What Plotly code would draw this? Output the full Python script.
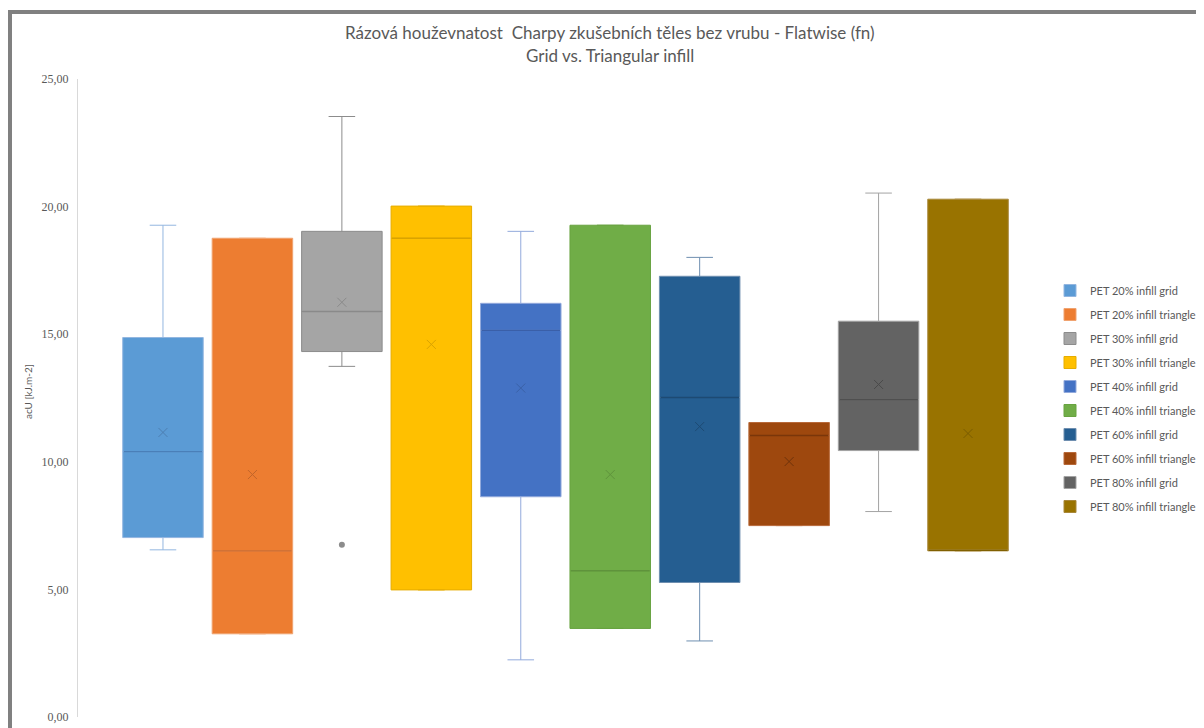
import plotly.graph_objects as go

categories = ["PET 20% infill grid", "PET 20% infill triangle", "PET 30% infill grid",
              "PET 30% infill triangle", "PET 40% infill grid", "PET 40% infill triangle",
              "PET 60% infill grid", "PET 60% infill triangle", "PET 80% infill grid",
              "PET 80% infill triangle"]
minimum = [6.55, 3.26, 13.74, 4.98, 2.24, 3.47, 2.98, 7.50, 8.05, 6.51]
q1 = [7.03, 3.26, 14.32, 4.98, 8.63, 3.47, 5.27, 7.50, 10.44, 6.51]
median = [10.40, 6.51, 15.89, 18.76, 15.15, 5.73, 12.52, 11.03, 12.44, 6.53]
q3 = [14.87, 18.76, 19.03, 20.02, 16.21, 19.27, 17.27, 11.54, 15.51, 20.29]
maximum = [19.27, 18.76, 23.53, 20.02, 19.03, 19.27, 18.01, 11.54, 20.53, 20.29]
mean = [11.15, 9.50, 16.25, 14.60, 12.89, 9.50, 11.38, 10.01, 13.03, 11.11]
outlier_cat = [2]
outlier_val = [6.75]

fills = ["#5B9BD5", "#ED7D31", "#A5A5A5", "#FFC000", "#4472C4",
         "#70AD47", "#255E91", "#9E480E", "#636363", "#997300"]
lines = ["#93b6e0", "#f0a370", "#8c8c8c", "#e6ad00", "#93aadc",
         "#68a341", "#6f8fb0", "#b8693a", "#a3a3a3", "#a8883a"]
medcol = ["#4a7fb8", "#c9672a", "#8a8a8a", "#d9a300", "#3a5fa8",
          "#5f933c", "#1d4a73", "#7a360a", "#4f4f4f", "#806000"]
markcol = ["#4d7fb2", "#c0652a", "#8a8a8a", "#d9a300", "#3a61a7",
           "#5f933c", "#1d4a73", "#6e320a", "#4a4a4a", "#7a5c00"]
BOXW = 0.9

fig = go.Figure()
for i, name in enumerate(categories):
    fig.add_trace(go.Box(
        x=[i], q1=[q1[i]], median=[median[i]], q3=[q3[i]],
        lowerfence=[minimum[i]], upperfence=[maximum[i]],
        name=name, fillcolor=fills[i], line=dict(color=lines[i], width=1),
        width=BOXW, whiskerwidth=0.33, boxpoints=False, legendgroup=name,
        hoverinfo="skip"))
for i in range(len(categories)):
    fig.add_trace(go.Scatter(
        x=[i - BOXW / 2 + 0.01, i + BOXW / 2 - 0.01], y=[median[i], median[i]],
        mode="lines", showlegend=False, line=dict(color=medcol[i], width=1.3),
        hoverinfo="skip"))
    fig.add_trace(go.Scatter(
        x=[i], y=[mean[i]], mode="markers", showlegend=False,
        marker=dict(symbol="x-thin", size=9, line=dict(color=markcol[i], width=1)),
        hoverinfo="skip"))
fig.add_trace(go.Scatter(
    x=outlier_cat, y=outlier_val, mode="markers", showlegend=False,
    marker=dict(symbol="circle", size=6, color="#8c8c8c"), hoverinfo="skip"))

# page body has an 8px margin: figure coords = screen coords - 8
OFF = 8
W, H = 1204 - OFF, 728 - OFF
L, R, T, B = 78 - OFF, 1204 - 1053, 79 - OFF, 728 - 717
pw, ph = W - L - R, H - T - B

def px(x):
    return (x - OFF - L) / pw

def py(y):
    return (H - B - (y - OFF)) / ph

fig.update_layout(
    width=W, height=H,
    margin=dict(l=L, r=R, t=T, b=B, autoexpand=False),
    paper_bgcolor="white", plot_bgcolor="white",
    separators=", ",
    boxmode="overlay",
    font=dict(family="Lato, Open Sans, sans-serif", color="#595959"),
    showlegend=True,
    legend=dict(x=px(1050), xanchor="left", y=py(276), yanchor="top",
                font=dict(size=11, color="#595959"), tracegroupgap=5,
                bgcolor="rgba(0,0,0,0)"),
    xaxis=dict(range=[-0.95, 9.95], visible=False, automargin=False),
    yaxis=dict(range=[0, 25], dtick=5, tickformat=".2f", showgrid=False,
               zeroline=False, showline=True, linecolor="#d9d9d9", linewidth=1,
               ticks="", tickfont=dict(size=12, color="#595959",
                                       family="Liberation Serif, serif"),
               ticklabelstandoff=6, automargin=False),
    annotations=[
        dict(text="Rázová houževnatost  Charpy zkušebních těles bez vrubu - Flatwise (fn)",
             xref="paper", yref="paper", x=px(610), y=py(33), xanchor="center",
             yanchor="middle", showarrow=False, font=dict(size=17, color="#595959")),
        dict(text="Grid vs. Triangular infill",
             xref="paper", yref="paper", x=px(610), y=py(56), xanchor="center",
             yanchor="middle", showarrow=False, font=dict(size=17, color="#595959")),
        dict(text="acU [kJ.m-2]", textangle=-90,
             xref="paper", yref="paper", x=px(28), y=py(392), xanchor="center",
             yanchor="middle", showarrow=False, font=dict(size=10, color="#595959")),
    ],
    shapes=[
        dict(type="line", xref="paper", yref="paper", x0=px(10), x1=px(10),
             y0=py(10), y1=py(740), line=dict(color="#808080", width=4)),
        dict(type="line", xref="paper", yref="paper", x0=px(8), x1=px(1210),
             y0=py(12), y1=py(12), line=dict(color="#808080", width=4)),
    ],
)

fig.write_html("out.html")
